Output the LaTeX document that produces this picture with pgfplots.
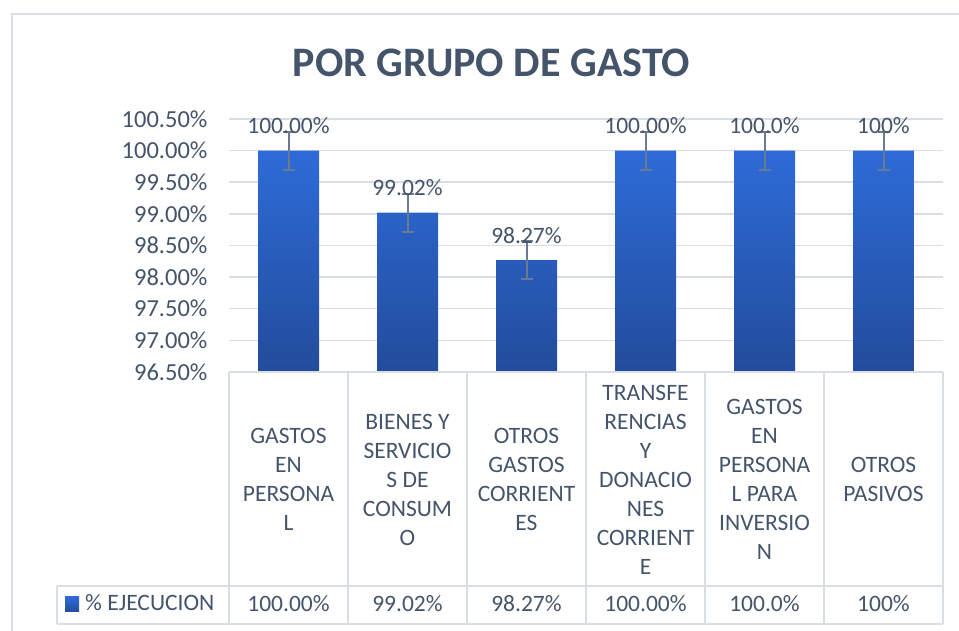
\documentclass[border=0pt]{standalone}
\usepackage{fontspec}
\setmainfont{Carlito}
\usepackage{pgfplots}
\pgfplotsset{compat=1.18}
\definecolor{txt}{HTML}{44546A}
\definecolor{gridc}{HTML}{D9DEE5}
\definecolor{barTop}{HTML}{2E6BD8}
\definecolor{barBot}{HTML}{234C9B}
\definecolor{errc}{HTML}{6A7A91}
\newcommand{\lbl}{\fontsize{23.5bp}{29bp}\selectfont}

\begin{document}
\begin{tikzpicture}[x=1bp,y=1bp]
\begin{axis}[
  at={(229bp,259bp)},anchor=south west,
  scale only axis,width=714bp,height=253bp,
  xmin=-0.5,xmax=5.5,ymin=96.5,ymax=100.5,
  xtick={0,...,5},
  xticklabels={
    {GASTOS\\EN\\PERSONA\\L},
    {BIENES Y\\SERVICIO\\S DE\\CONSUM\\O},
    {OTROS\\GASTOS\\CORRIENT\\ES},
    {TRANSFE\\RENCIAS\\Y\\DONACIO\\NES\\CORRIENT\\E},
    {GASTOS\\EN\\PERSONA\\L PARA\\INVERSIO\\N},
    {OTROS\\PASIVOS}},
  ytick={96.5,97,97.5,98,98.5,99,99.5,100,100.5},
  yticklabel={\pgfmathprintnumber[fixed,fixed zerofill,precision=2]{\tick}\%},
  /pgf/number format/assume math mode=true,
  axis line style={draw=none},
  major tick length=0pt,
  ymajorgrids,grid style={gridc,line width=1.5bp},
  tick label style={font=\lbl,text=txt},
  xticklabel style={align=center,anchor=center,yshift=-107.5bp},
  yticklabel style={xshift=-18bp,font=\fontsize{24.5bp}{29bp}\selectfont},
]
\addplot[ybar,bar width=61bp,bar shift=0pt,draw=none,top color=barTop,bottom color=barBot]
  coordinates {(0,100) (1,99.02) (2,98.27) (3,100) (4,100) (5,100)};
\addplot[only marks,mark=none,
  nodes near coords,point meta=explicit symbolic,
  nodes near coords style={anchor=base,yshift=17bp,font=\lbl,text=txt},
  error bars/.cd,y dir=both,y fixed=0.3,
  error bar style={draw=errc,line width=2bp},
  error mark options={rotate=90,mark size=6bp,line width=2bp,draw=errc}]
  coordinates {(0,100)[100.00\%] (1,99.02)[99.02\%] (2,98.27)[98.27\%]
    (3,100)[100.00\%] (4,100)[100.0\%] (5,100)[100\%]};
\end{axis}

% data table
\begin{scope}[gridc,line width=2bp]
\draw (229,259) -- (943,259);
\draw (57,45) -- (943,45);
\draw (57,7) -- (943,7);
\draw (57,45) -- (57,7);
\foreach \x in {229,348,467,586,705,824,943} \draw (\x,259) -- (\x,7);
\end{scope}
\foreach \v [count=\i from 0] in {100.00\%,99.02\%,98.27\%,100.00\%,100.0\%,100\%}
  \node[anchor=base,font=\lbl,text=txt,inner sep=0] at (288.5+119*\i,19) {\v};
\shade[top color=barTop,bottom color=barBot] (65,19) rectangle (79,34);
\node[anchor=base west,font=\lbl,text=txt,inner sep=0] at (85,20) {\% EJECUCION};

% frame and title
\draw[gridc,line width=2bp] (12,0) -- (12,617) -- (959,617);
\node[anchor=base,font=\fontsize{42bp}{50bp}\selectfont\bfseries,text=txt,inner sep=0]
  at (491.5,554) {POR GRUPO DE GASTO};

\pgfresetboundingbox
\path (0,0) rectangle (959,631);
\end{tikzpicture}
\end{document}
